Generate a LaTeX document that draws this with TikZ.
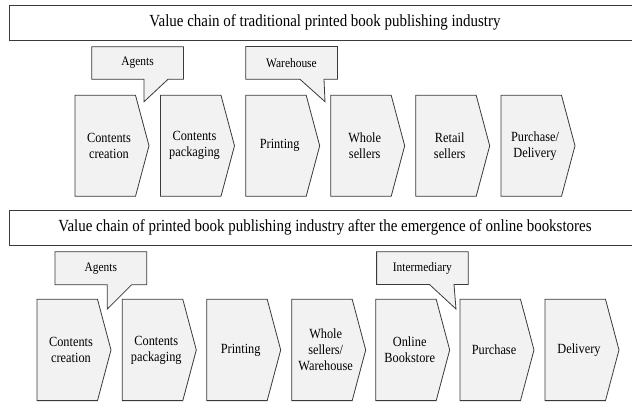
\documentclass[tikz,border=0pt]{standalone}
\usepackage{fontspec}
\setmainfont{Liberation Serif}[FakeStretch=0.88]
\definecolor{boxfill}{HTML}{F2F2F2}
\definecolor{edge}{HTML}{3A3A3A}
\tikzset{
  shapeline/.style={draw=edge, fill=boxfill, line width=0.8pt, line join=miter},
  titleline/.style={draw=edge, fill=white, line width=0.9pt},
  boxtext/.style={font=\fontsize{14}{16}\selectfont, align=center, inner sep=0pt},
  calltext/.style={font=\fontsize{13}{15}\selectfont, inner sep=0pt},
  titletext/.style={font=\fontsize{17}{20}\selectfont, inner sep=0pt},
}
% name, left, top, bottom, text
\newcommand\chevshape[5]{%
  \draw[shapeline] (#2,#3) -- (#2+60.5,#3) -- (#2+74,{(#3+#4)/2}) -- (#2+60.5,#4) -- (#2,#4) -- cycle;
  \node[boxtext] (#1) at (#2+34,{(#3+#4)/2}) {#5};
}
% name, left, top, bottom, tail-left x, tail-right x, tip x, tip y, text
\newcommand\callout[9]{%
  \draw[shapeline] (#2,#3) -- (#2+91.7,#3) -- (#2+91.7,#4) -- (#6,#4) -- (#7,#8) -- (#5,#4) -- (#2,#4) -- cycle;
  \node[calltext] (#1) at (#2+45.8,{(#3+#4)/2}) {#9};
}
\begin{document}
\begin{tikzpicture}[x=1pt,y=-1pt]
\useasboundingbox (0,0) rectangle (632,402);
\begin{scope}
\clip (0,0) rectangle (632,402);
% ---------- row 1 ----------
\draw[titleline] (9,5) rectangle (645,40.7);
\node[titletext] (title1) at (325,22.8) {Value chain of traditional printed book publishing industry};

\chevshape{a1}{75}{95.3}{196.3}{Contents\\creation}
\chevshape{a2}{160.5}{95.3}{196.3}{Contents\\packaging}
\chevshape{a3}{245.7}{95.3}{196.3}{Printing}
\chevshape{a4}{330.7}{95.3}{196.3}{Whole\\sellers}
\chevshape{a5}{415.7}{95.3}{196.3}{Retail\\sellers}
\chevshape{a6}{501}{95.3}{196.3}{Purchase/\\Delivery}

\callout{c1}{91.7}{46.7}{79.3}{144}{168}{144}{101.7}{Agents}
\callout{c2}{245.7}{46.5}{79.3}{300}{324}{325}{101.7}{Warehouse}

% ---------- row 2 ----------
\draw[titleline] (9,210) rectangle (645,245);
\node[titletext] (title2) at (325,227.5) {Value chain of printed book publishing industry after the emergence of online bookstores};

\chevshape{b1}{37}{299.3}{400.6}{Contents\\creation}
\chevshape{b2}{122.3}{299.3}{400.6}{Contents\\packaging}
\chevshape{b3}{206.7}{299.3}{400.6}{Printing}
\chevshape{b4}{291.7}{299.3}{400.6}{Whole\\sellers/\\Warehouse}
\chevshape{b5}{375.7}{299.3}{400.6}{Online\\Bookstore}
\chevshape{b6}{460}{299.3}{400.6}{Purchase}
\chevshape{b7}{545}{299.3}{400.6}{Delivery}

\callout{c3}{55}{251.7}{284.7}{107.3}{131.7}{107.3}{309}{Agents}
\callout{c4}{376.6}{251.7}{284.5}{429.5}{454}{456}{309}{Intermediary}
\end{scope}
\end{tikzpicture}
\end{document}
